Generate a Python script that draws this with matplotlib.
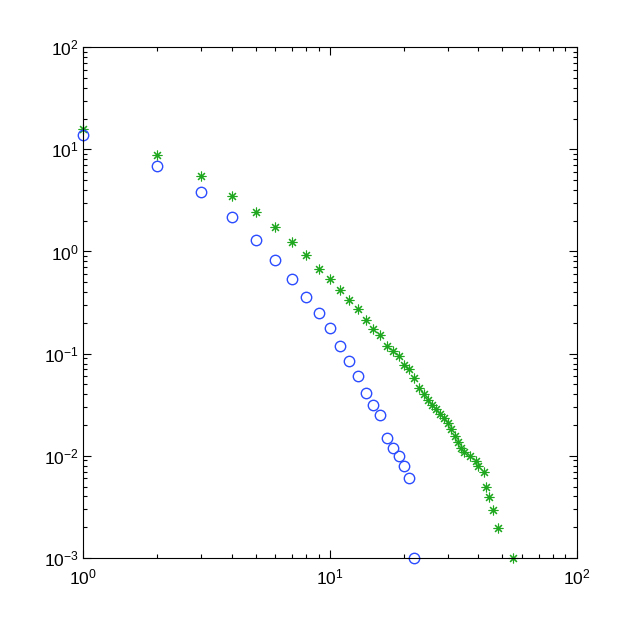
import numpy as np
import matplotlib
matplotlib.use("Agg")
import matplotlib.pyplot as plt
from matplotlib.ticker import LogLocator, FixedLocator, NullFormatter

plt.rcParams["font.family"] = ["Liberation Sans", "DejaVu Sans"]
plt.rcParams["mathtext.fontset"] = "custom"
plt.rcParams["mathtext.rm"] = "Liberation Sans"
plt.rcParams["mathtext.it"] = "Liberation Sans"

# 青丸系列（x = 1..22）
blue_x = list(range(1, 23))
blue_y = [13.7, 6.85, 3.79, 2.16, 1.30, 0.83, 0.533, 0.36, 0.248, 0.177,
          0.118, 0.0848, 0.060, 0.0414, 0.0316, 0.0249, 0.0148, 0.0118,
          0.0099, 0.0079, 0.0060, 0.001]

# 緑アスタリスク系列
green_x = list(range(1, 36)) + [37, 39, 40, 42, 43, 44, 46, 48, 55]
green_y = [15.8, 8.84, 5.47, 3.51, 2.41, 1.72, 1.24, 0.93, 0.68, 0.54,
           0.422, 0.334, 0.271, 0.212, 0.175, 0.151, 0.119, 0.106, 0.0948,
           0.0773, 0.0706, 0.0577, 0.0457, 0.0403, 0.0351, 0.0312, 0.0285,
           0.0255, 0.0236, 0.0208, 0.0183, 0.0156, 0.0137, 0.0118, 0.0110,
           0.0099, 0.0089, 0.0079, 0.0070, 0.00495, 0.00393, 0.00295,
           0.00198, 0.001]

fig = plt.figure(figsize=(6.38, 6.29), dpi=100)
ax = fig.add_axes([0.130, 0.113, 0.774, 0.812])

ax.plot(green_x, green_y, linestyle="none", marker=(8, 2, 0), markersize=7,
        markeredgewidth=0.8, color="#1fa81f", clip_on=False)
ax.plot(blue_x, blue_y, linestyle="none", marker="o", markersize=7.5,
        markerfacecolor="none", markeredgewidth=1.0, color="#2b4cff",
        clip_on=False)

ax.set_xscale("log")
ax.set_yscale("log")
ax.set_xlim(1, 100)
ax.set_ylim(1e-3, 1e2)

ax.xaxis.set_major_locator(FixedLocator([1, 10, 100]))
ax.yaxis.set_major_locator(FixedLocator([1e-3, 1e-2, 1e-1, 1, 10, 100]))
ax.xaxis.set_minor_locator(LogLocator(base=10, subs=np.arange(2, 10)))
ax.yaxis.set_minor_locator(LogLocator(base=10, subs=np.arange(2, 10)))
ax.xaxis.set_minor_formatter(NullFormatter())
ax.yaxis.set_minor_formatter(NullFormatter())
ax.set_xticklabels([r"$10^{0}$", r"$10^{1}$", r"$10^{2}$"])
ax.set_yticklabels([r"$10^{-3}$", r"$10^{-2}$", r"$10^{-1}$",
                    r"$10^{0}$", r"$10^{1}$", r"$10^{2}$"])

ax.tick_params(which="both", direction="in", top=True, right=True,
               labelsize=12.5, width=0.8)
ax.tick_params(which="major", length=6)
ax.tick_params(which="minor", length=3)
ax.tick_params(axis="x", pad=7)
ax.tick_params(axis="y", pad=3)
for s in ax.spines.values():
    s.set_linewidth(0.8)

fig.savefig("out.png", dpi=100)
